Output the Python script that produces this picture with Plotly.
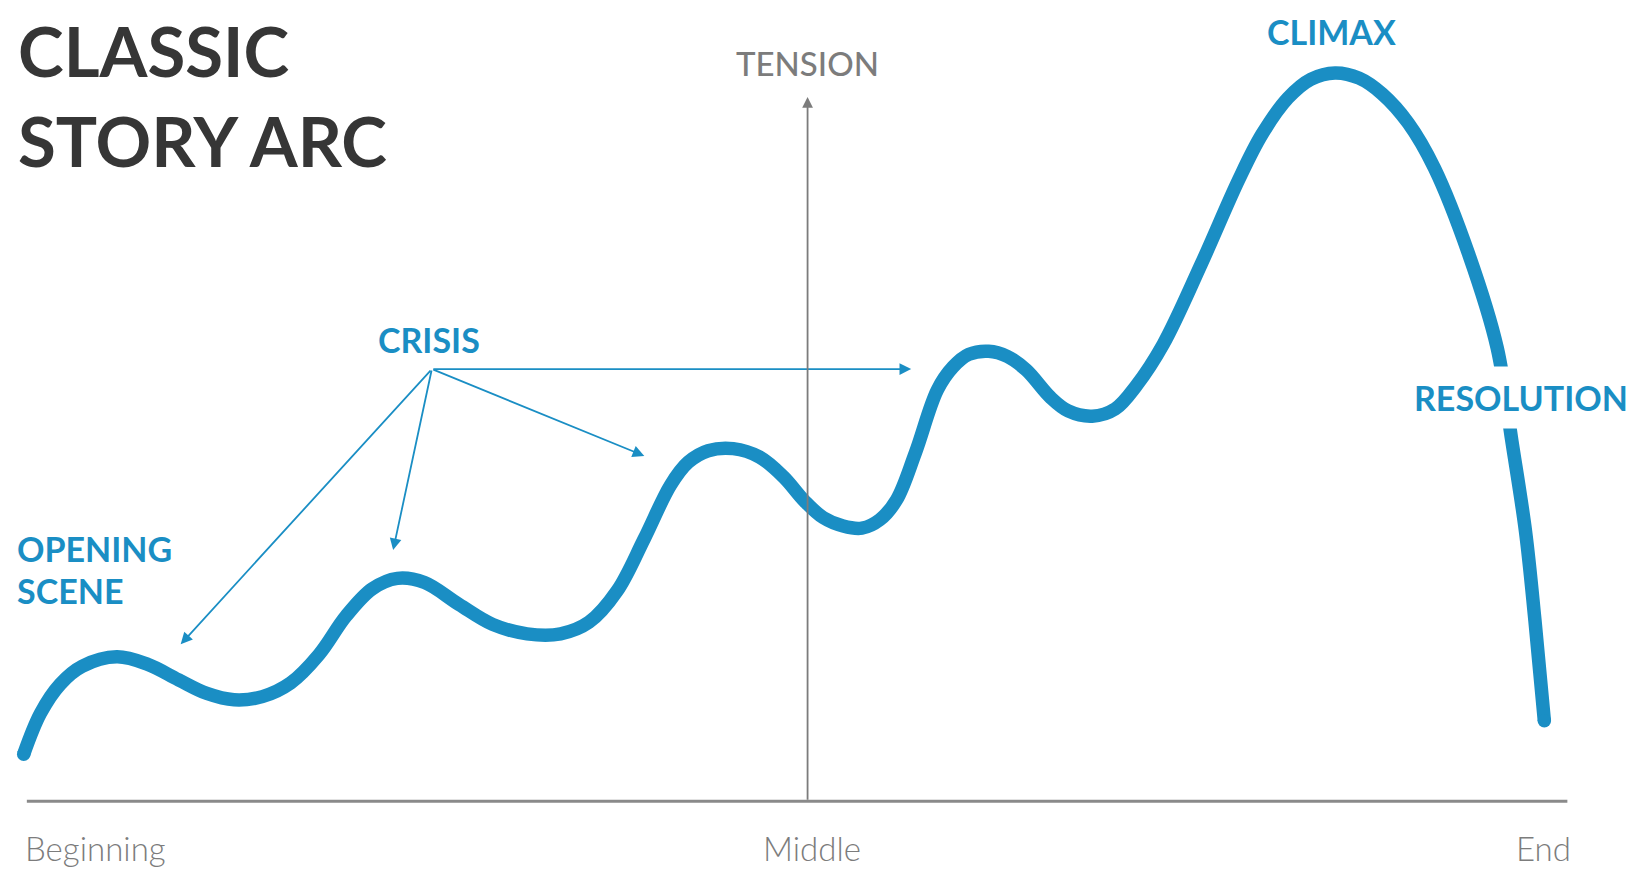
import plotly.graph_objects as go

# ---- data (story position, screen-style height) ----
BASE = 765  # baseline level
curve_px_x = [22, 38, 57, 78, 111, 140, 170, 197, 223, 250, 277, 304, 330, 355,
              379, 405, 438, 470, 503, 535, 562, 589, 615, 640, 657, 676, 700,
              725, 748, 768, 786, 805, 823, 840, 856, 874, 895, 910, 925, 944,
              962, 980, 1003, 1020, 1043, 1065, 1085, 1111, 1147, 1183, 1205,
              1230, 1252, 1275, 1298, 1320, 1345, 1370, 1403, 1430, 1444, 1457,
              1466, 1475]
curve_px_y = [720, 681, 653, 636, 627, 634, 649, 662, 668, 665, 652, 625, 588, 562,
              552, 556, 577, 596, 605, 605, 594, 564, 514, 463, 441, 430, 428,
              436, 455, 478, 494, 502, 504, 496, 477, 432, 372, 350, 338, 335,
              340, 353, 379, 392, 397, 390, 368, 328, 252, 171, 128,
              93, 75, 69, 74, 89, 117, 160, 243, 332, 421, 507,
              592, 688]
story_x = curve_px_x
tension = [BASE - v for v in curve_px_y]

tick_labels = ["Beginning", "Middle", "End"]

crisis_origin = (412, BASE - 352)
crisis_targets_x = [172, 375, 615, 870]
crisis_targets_y = [BASE - 615, BASE - 525, BASE - 435, BASE - 352]

BLUE = "#1a8ec4"
DARK = "#363636"
GRAY = "#7c7c7c"

fig = go.Figure()
fig.add_trace(go.Scatter(
    x=story_x, y=tension, mode="lines",
    line=dict(color=BLUE, width=13.5, shape="spline", smoothing=1.0),
    hoverinfo="skip", showlegend=False))
fig.add_trace(go.Scatter(
    x=[story_x[0], story_x[-1]], y=[tension[0], tension[-1]], mode="markers",
    marker=dict(color=BLUE, size=13.5), hoverinfo="skip", showlegend=False))

ann = []
for tx, ty in zip(crisis_targets_x, crisis_targets_y):
    ann.append(dict(x=tx, y=ty, ax=crisis_origin[0], ay=crisis_origin[1],
                    xref="x", yref="y", axref="x", ayref="y", text="",
                    showarrow=True, arrowhead=2, arrowsize=1.3, arrowwidth=1.8,
                    arrowcolor=BLUE, standoff=0))
ann.append(dict(x=771, y=BASE - 92, ax=771, ay=0, xref="x", yref="y",
                axref="x", ayref="y", text="", showarrow=True, arrowhead=2,
                arrowsize=1.2, arrowwidth=1.8, arrowcolor=GRAY, standoff=0))

def label(text, x, py, size, color, weight="bold", xanchor="left", bg=None, pad=0):
    d = dict(x=x, y=BASE - py, xref="x", yref="y", text=text, showarrow=False,
             xanchor=xanchor, yanchor="middle", borderpad=pad,
             font=dict(family="Lato", size=size, color=color, weight=weight))
    if bg:
        d["bgcolor"] = bg
    ann.append(d)

ann.append(dict(x=16, y=1.0, xref="x", yref="paper", text="CLASSIC<br>STORY ARC",
                showarrow=False, xanchor="left", yanchor="top", align="left",
                borderpad=0,
                font=dict(family="Lato", size=69, color=DARK, weight="bold")))
label("TENSION", 771, 60, 33, GRAY, weight=500, xanchor="center")
label("CRISIS", 360, 324, 34, BLUE)
label("OPENING", 15, 523, 34, BLUE)
label("SCENE", 15, 564, 34, BLUE)
label("CLIMAX", 1209, 29, 34, BLUE)
label("RESOLUTION", 1340, 379, 34, BLUE, bg="white", pad=10)
label(tick_labels[0], 22, 810, 33, GRAY, weight=300)
label(tick_labels[1], 775, 810, 33, GRAY, weight=300, xanchor="center")
label(tick_labels[2], 1501, 810, 33, GRAY, weight=300, xanchor="right")

fig.update_layout(
    width=1641, height=877,
    margin=dict(l=0, r=0, t=0, b=0),
    paper_bgcolor="white", plot_bgcolor="white",
    xaxis=dict(range=[7, 1575], visible=False, fixedrange=True),
    yaxis=dict(range=[BASE - 845, BASE - 7], visible=False, fixedrange=True),
    annotations=ann,
    shapes=[dict(type="line", xref="x", yref="y", x0=25, x1=1497, y0=0, y1=0,
                 line=dict(color="#8a8a8a", width=3), layer="below")],
)

fig.write_html("out.html")
